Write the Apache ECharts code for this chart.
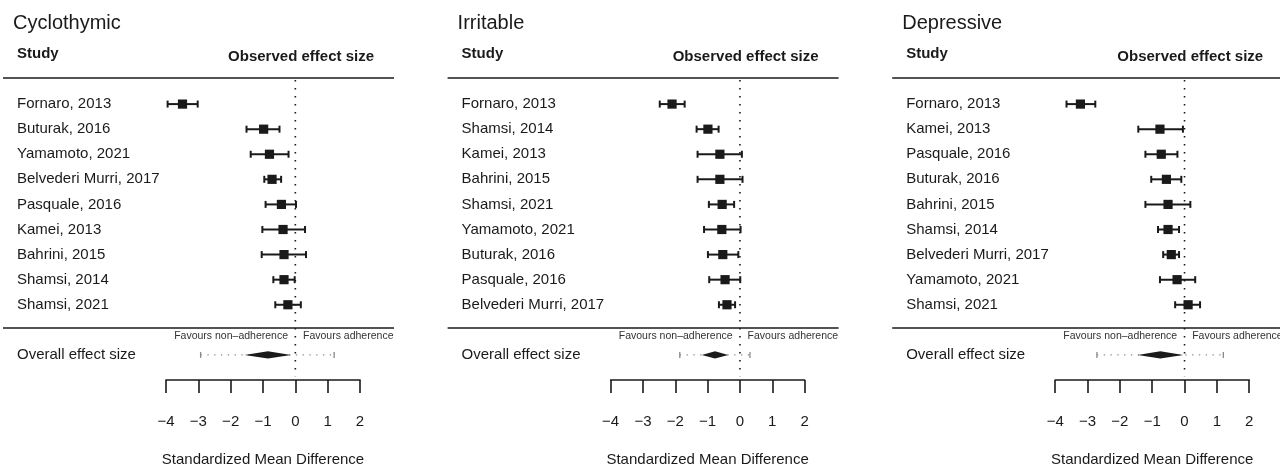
<!DOCTYPE html>
<html>
<head>
<meta charset="utf-8">
<script src="https://cdn.jsdelivr.net/npm/echarts@6/dist/echarts.min.js"></script>
<style>
  html, body { margin: 0; padding: 0; background: #fff; }
  #chart { width: 1280px; height: 465px; }
</style>
</head>
<body>
<div id="chart"></div>
<script>
// 三个亚型的森林图数据
const panelTitles = ['Cyclothymic', 'Irritable', 'Depressive'];
const xTicks = [-4, -3, -2, -1, 0, 1, 2];

// Cyclothymic
const cycStudies = ['Fornaro, 2013', 'Buturak, 2016', 'Yamamoto, 2021', 'Belvederi Murri, 2017', 'Pasquale, 2016', 'Kamei, 2013', 'Bahrini, 2015', 'Shamsi, 2014', 'Shamsi, 2021'];
const cycEst   = [-3.49, -0.98, -0.80, -0.72, -0.43, -0.38, -0.35, -0.35, -0.23];
const cycLower = [-3.95, -1.51, -1.38, -0.96, -0.92, -1.02, -1.04, -0.68, -0.62];
const cycUpper = [-3.02, -0.49, -0.21, -0.44, 0.02, 0.30, 0.33, -0.02, 0.17];
const cycOverall = [-0.85, -1.57, -0.13];   // estimate, CI lower, CI upper
const cycPredInt = [-2.93, 1.20];

// Irritable
const irrStudies = ['Fornaro, 2013', 'Shamsi, 2014', 'Kamei, 2013', 'Bahrini, 2015', 'Shamsi, 2021', 'Yamamoto, 2021', 'Buturak, 2016', 'Pasquale, 2016', 'Belvederi Murri, 2017'];
const irrEst   = [-2.10, -0.99, -0.62, -0.62, -0.55, -0.56, -0.53, -0.46, -0.40];
const irrLower = [-2.48, -1.34, -1.31, -1.31, -0.96, -1.11, -0.99, -0.95, -0.65];
const irrUpper = [-1.71, -0.66, 0.06, 0.08, -0.18, 0.02, -0.05, 0.01, -0.15];
const irrOverall = [-0.77, -1.18, -0.36];
const irrPredInt = [-1.86, 0.31];

// Depressive
const depStudies = ['Fornaro, 2013', 'Kamei, 2013', 'Pasquale, 2016', 'Buturak, 2016', 'Bahrini, 2015', 'Shamsi, 2014', 'Belvederi Murri, 2017', 'Yamamoto, 2021', 'Shamsi, 2021'];
const depEst   = [-3.22, -0.76, -0.72, -0.56, -0.51, -0.51, -0.41, -0.23, 0.11];
const depLower = [-3.65, -1.43, -1.21, -1.03, -1.21, -0.82, -0.66, -0.76, -0.29];
const depUpper = [-2.76, -0.05, -0.22, -0.10, 0.18, -0.17, -0.17, 0.33, 0.48];
const depOverall = [-0.75, -1.45, -0.04];
const depPredInt = [-2.71, 1.20];

const panels = [
    { studies: cycStudies, est: cycEst, lower: cycLower, upper: cycUpper, overall: cycOverall, pi: cycPredInt },
    { studies: irrStudies, est: irrEst, lower: irrLower, upper: irrUpper, overall: irrOverall, pi: irrPredInt },
    { studies: depStudies, est: depEst, lower: depLower, upper: depUpper, overall: depOverall, pi: depPredInt }
];

const FONT = "'Liberation Sans', Arial, Helvetica, sans-serif";
const INK = '#1a1a1a';
const PANEL_STEP = 444.6;
const OVERALL_ROW = 10;

const chart = echarts.init(document.getElementById('chart'));

function fmtTick(v) {
    return v < 0 ? '\u2212' + Math.abs(v) : String(v);
}

// 单项研究：误差线 + 方块
function renderStudy(params, api) {
    const row = api.value(3);
    const pLo = api.coord([api.value(1), row]);
    const pHi = api.coord([api.value(2), row]);
    const pE = api.coord([api.value(0), row]);
    const cap = 3.5, half = 4.6;
    const line = { stroke: INK, lineWidth: 2 };
    return {
        type: 'group',
        children: [
            { type: 'line', shape: { x1: pLo[0], y1: pLo[1], x2: pHi[0], y2: pHi[1] }, style: line },
            { type: 'line', shape: { x1: pLo[0], y1: pLo[1] - cap, x2: pLo[0], y2: pLo[1] + cap }, style: line },
            { type: 'line', shape: { x1: pHi[0], y1: pHi[1] - cap, x2: pHi[0], y2: pHi[1] + cap }, style: line },
            { type: 'rect', shape: { x: pE[0] - half, y: pE[1] - half, width: half * 2, height: half * 2 }, style: { fill: INK } }
        ]
    };
}

// 汇总效应：预测区间(虚线) + 菱形
function renderOverall(params, api) {
    const row = api.value(5);
    const e = api.coord([api.value(0), row]);
    const lo = api.coord([api.value(1), row]);
    const hi = api.coord([api.value(2), row]);
    const pl = api.coord([api.value(3), row]);
    const ph = api.coord([api.value(4), row]);
    const h = 3.6;
    const grey = { stroke: '#8a8a8a', lineWidth: 1.3 };
    return {
        type: 'group',
        children: [
            { type: 'line', shape: { x1: pl[0], y1: pl[1], x2: ph[0], y2: ph[1] }, style: Object.assign({ lineDash: [1.3, 5.5] }, grey) },
            { type: 'line', shape: { x1: pl[0], y1: pl[1] - 3, x2: pl[0], y2: pl[1] + 3 }, style: grey },
            { type: 'line', shape: { x1: ph[0], y1: ph[1] - 3, x2: ph[0], y2: ph[1] + 3 }, style: grey },
            { type: 'polygon', shape: { points: [[lo[0], lo[1]], [e[0], e[1] - h], [hi[0], hi[1]], [e[0], e[1] + h]] }, style: { fill: INK } }
        ]
    };
}

// 零效应参考线
function renderZero(params, api) {
    const a = api.coord([0, api.value(0)]);
    const b = api.coord([0, api.value(1)]);
    return {
        type: 'line',
        shape: { x1: a[0], y1: a[1], x2: b[0], y2: b[1] },
        style: { stroke: INK, lineWidth: 1.6, lineDash: [1.4, 6.6] }
    };
}

const grids = [], xAxes = [], yAxes = [], series = [], graphics = [];

panels.forEach((p, i) => {
    const dx = i * PANEL_STEP;
    const zeroX = 296 + dx;

    grids.push({ left: 166 + dx, top: 79, width: 194, height: 301, outerBoundsMode: 'none', containLabel: false });

    xAxes.push({
        gridIndex: i, type: 'value', min: -4, max: 2, interval: 1,
        axisLine: { onZero: false, lineStyle: { color: INK, width: 1.6 } },
        axisTick: { show: true, inside: false, length: 13, lineStyle: { color: INK, width: 1.6 } },
        axisLabel: { formatter: fmtTick, margin: 34, fontSize: 15, color: INK, fontFamily: FONT },
        splitLine: { show: false },
        name: 'Standardized Mean Difference', nameLocation: 'middle', nameGap: 72,
        nameTextStyle: { fontSize: 15, color: INK, fontFamily: FONT }
    });

    // 标签用类目轴，数据用数值轴
    const labels = [''].concat(p.studies, ['', 'Overall effect size', '']);
    yAxes.push({
        gridIndex: i, type: 'category', data: labels, inverse: true, boundaryGap: false,
        axisLine: { show: false }, axisTick: { show: false }, splitLine: { show: false },
        axisLabel: { interval: 0, align: 'left', margin: 149, fontSize: 15, color: INK, fontFamily: FONT }
    });
    yAxes.push({
        gridIndex: i, type: 'value', min: -1, max: 11, inverse: true, show: false,
        axisLine: { onZero: false }
    });

    series.push({
        type: 'custom', xAxisIndex: i, yAxisIndex: i * 2 + 1,
        renderItem: renderZero, data: [[-0.96, 10.85]], silent: true, z: 1
    });
    series.push({
        type: 'custom', xAxisIndex: i, yAxisIndex: i * 2 + 1,
        renderItem: renderStudy, silent: true, z: 3,
        data: p.est.map((v, k) => [v, p.lower[k], p.upper[k], k])
    });
    series.push({
        type: 'custom', xAxisIndex: i, yAxisIndex: i * 2 + 1,
        renderItem: renderOverall, silent: true, z: 3,
        data: [[p.overall[0], p.overall[1], p.overall[2], p.pi[0], p.pi[1], OVERALL_ROW]]
    });

    graphics.push(
        { type: 'text', left: 13 + dx, top: 13, style: { text: panelTitles[i], font: '20px ' + FONT, fill: INK } },
        { type: 'text', left: 17 + dx, top: 46, style: { text: 'Study', font: 'bold 15px ' + FONT, fill: INK } },
        { type: 'text', right: 1280 - (374 + dx), top: 49, style: { text: 'Observed effect size', font: 'bold 15px ' + FONT, fill: INK } },
        { type: 'line', shape: { x1: 3 + dx, y1: 78, x2: 394 + dx, y2: 78 }, style: { stroke: INK, lineWidth: 1.6 } },
        { type: 'line', shape: { x1: 3 + dx, y1: 328, x2: 394 + dx, y2: 328 }, style: { stroke: INK, lineWidth: 1.6 } },
        { type: 'text', x: zeroX - 8, y: 336, style: { text: 'Favours non\u2013adherence', font: '10.5px ' + FONT, fill: '#333', align: 'right', verticalAlign: 'middle' } },
        { type: 'text', x: zeroX + 7, y: 336, style: { text: 'Favours adherence', font: '10.5px ' + FONT, fill: '#333', align: 'left', verticalAlign: 'middle' } }
    );
});

chart.setOption({
    animation: false,
    backgroundColor: '#fff',
    textStyle: { fontFamily: FONT },
    grid: grids,
    xAxis: xAxes,
    yAxis: yAxes,
    series: series,
    graphic: graphics
});
</script>
</body>
</html>
